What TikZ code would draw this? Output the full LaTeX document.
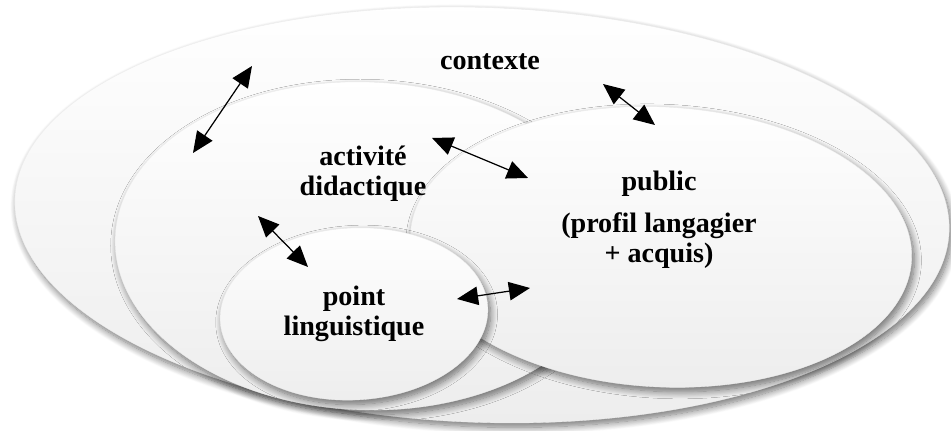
\documentclass[tikz,border=0pt]{standalone}
\usepackage{fontspec}
\setmainfont{Liberation Serif}
\usetikzlibrary{arrows.meta,shapes.geometric,shadows.blur}

\begin{document}
\begin{tikzpicture}[x=0.02cm,y=0.02cm,
        bubble/.style={shape=ellipse,inner sep=0pt,draw=gray!15,line width=0.2pt,
            top color=white,middle color=white,bottom color=gray!14,
            blur shadow={shadow xshift=1.5pt,shadow yshift=-2.5pt,shadow blur radius=4pt,shadow blur steps=12,shadow opacity=55}},
        lbl/.style={align=center,font=\fontsize{16}{17}\selectfont\bfseries},
        link/.style={{Triangle[length=12pt,width=10.5pt]}-{Triangle[length=12pt,width=10.5pt]},line width=0.7pt}]
        \useasboundingbox (0,0) rectangle (951,431);

        % ellipses
        \node[bubble,minimum width=18.7cm,minimum height=8.3cm,rotate=-2]  (ctx) at (482,216) {};
        \node[bubble,minimum width=10cm,minimum height=6.56cm,rotate=-2]   (act) at (365,185) {};
        \node[bubble,minimum width=10.04cm,minimum height=5.6cm,rotate=-3] (pub) at (661,184) {};
        \node[bubble,minimum width=5.36cm,minimum height=3.44cm,rotate=3]  (pt)  at (354,117) {};

        % labels
        \node[lbl] (ctxlbl) at (490,369) {contexte};
        \node[lbl] (actlbl) at (363,257) {activité\\didactique};
        \node[lbl] (publbl) at (659,211) {public\\[7pt](profil langagier\\+ acquis)};
        \node[lbl] (ptlbl)  at (354,117) {point\\linguistique};

        % arrow ends
        \coordinate (actA) at (193,278);
        \coordinate (ctxA) at (252,365);
        \coordinate (actB) at (432,293);
        \coordinate (pubB) at (528,253);
        \coordinate (ctxC) at (603,347);
        \coordinate (pubC) at (655,306);
        \coordinate (actD) at (258,215);
        \coordinate (ptD)  at (308,164);
        \coordinate (ptE)  at (457,132);
        \coordinate (pubE) at (530,143);

        \draw[link] (actA) -- (ctxA);
        \draw[link] (actB) -- (pubB);
        \draw[link] (ctxC) -- (pubC);
        \draw[link] (actD) -- (ptD);
        \draw[link] (ptE) -- (pubE);
    \end{tikzpicture}
\end{document}
